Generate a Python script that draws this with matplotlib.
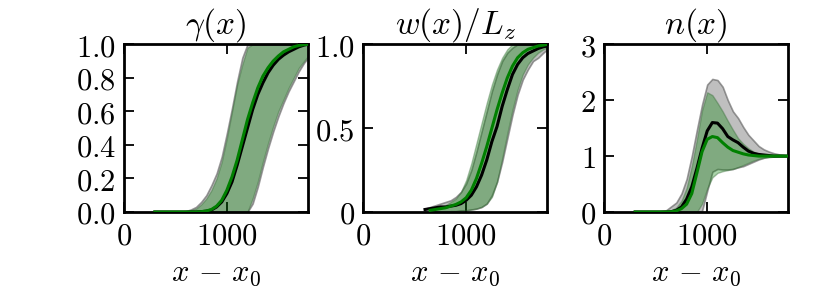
import numpy as np
import matplotlib
matplotlib.use("Agg")
import matplotlib.pyplot as plt
from matplotlib.ticker import FixedLocator, FixedFormatter

plt.rcParams['mathtext.fontset'] = 'cm'
plt.rcParams['font.family'] = 'serif'

# common x grid (x - x0)
x = [300, 400, 500, 600, 650, 700, 750, 800, 850, 900, 950, 1000, 1050, 1100,
     1150, 1200, 1250, 1300, 1350, 1400, 1450, 1500, 1550, 1600, 1650, 1700, 1750, 1790]

nan = np.nan

# ---- gamma(x) ----
gamma_black = [0, 0, 0, 0, 0, 0, 0.002, 0.005, 0.012, 0.03, 0.06, 0.11, 0.18, 0.28,
               0.39, 0.50, 0.61, 0.70, 0.77, 0.83, 0.875, 0.91, 0.935, 0.955, 0.97, 0.985, 0.995, 1.0]
gamma_green = [0, 0, 0, 0, 0, 0, 0.002, 0.006, 0.015, 0.035, 0.07, 0.13, 0.21, 0.31,
               0.43, 0.55, 0.65, 0.74, 0.81, 0.86, 0.90, 0.93, 0.955, 0.97, 0.985, 0.993, 0.998, 1.0]
gamma_gray_hi = [0, 0, 0, 0.005, 0.015, 0.03, 0.06, 0.10, 0.16, 0.23, 0.33, 0.47, 0.62, 0.78,
                 0.92, 1.0, 1.0, 1.0, 1.0, 1.0, 1.0, 1.0, 1.0, 1.0, 1.0, 1.0, 1.0, 1.0]
gamma_gray_lo = [0, 0, 0, 0, 0, 0, 0, 0, 0, 0, 0, 0, 0, 0,
                 0, 0, 0.05, 0.15, 0.27, 0.38, 0.48, 0.57, 0.65, 0.72, 0.78, 0.84, 0.89, 0.92]
gamma_band_hi = [0, 0, 0, 0, 0.01, 0.02, 0.045, 0.08, 0.13, 0.20, 0.30, 0.44, 0.60, 0.76,
                 0.88, 0.98, 1.0, 1.0, 1.0, 1.0, 1.0, 1.0, 1.0, 1.0, 1.0, 1.0, 1.0, 1.0]
gamma_band_lo = [0, 0, 0, 0, 0, 0, 0, 0, 0, 0, 0, 0, 0, 0,
                 0, 0, 0.08, 0.18, 0.30, 0.41, 0.51, 0.60, 0.67, 0.74, 0.80, 0.86, 0.90, 0.93]

# ---- w(x)/Lz ----
w_black = [nan, nan, nan, 0.015, 0.02, 0.025, 0.03, 0.03, 0.035, 0.04, 0.05, 0.07, 0.10, 0.15,
           0.22, 0.31, 0.42, 0.51, 0.63, 0.73, 0.82, 0.88, 0.92, 0.945, 0.96, 0.975, 0.985, 0.99]
w_green = [nan, nan, nan, nan, 0.01, 0.015, 0.02, 0.025, 0.035, 0.045, 0.06, 0.085, 0.13, 0.20,
           0.29, 0.39, 0.50, 0.61, 0.71, 0.80, 0.87, 0.92, 0.95, 0.97, 0.98, 0.99, 0.995, 1.0]
w_gray_hi = [nan, nan, nan, 0.02, 0.03, 0.04, 0.05, 0.06, 0.07, 0.09, 0.12, 0.17, 0.25, 0.36,
             0.48, 0.60, 0.72, 0.82, 0.90, 0.95, 0.98, 1.0, 1.0, 1.0, 1.0, 1.0, 1.0, 1.0]
w_gray_lo = [nan, nan, nan, 0.0, 0.0, 0.0, 0.0, 0.0, 0.005, 0.005, 0.01, 0.01, 0.015, 0.02,
             0.03, 0.05, 0.10, 0.18, 0.30, 0.44, 0.58, 0.70, 0.79, 0.85, 0.90, 0.92, 0.95, 0.97]
w_band_hi = [nan, nan, nan, nan, 0.01, 0.02, 0.03, 0.04, 0.06, 0.08, 0.12, 0.19, 0.29, 0.41,
             0.53, 0.65, 0.76, 0.85, 0.92, 0.97, 1.0, 1.0, 1.0, 1.0, 1.0, 1.0, 1.0, 1.0]
w_band_lo = [nan, nan, nan, nan, 0.0, 0.0, 0.0, 0.0, 0.0, 0.005, 0.008, 0.01, 0.015, 0.02,
             0.03, 0.05, 0.09, 0.18, 0.32, 0.47, 0.61, 0.73, 0.82, 0.88, 0.92, 0.95, 0.97, 0.98]

# ---- n(x) ----
n_black = [0, 0, 0, 0, 0.005, 0.03, 0.09, 0.23, 0.45, 0.78, 1.14, 1.45, 1.60, 1.59,
           1.49, 1.35, 1.29, 1.24, 1.16, 1.09, 1.05, 1.03, 1.02, 1.01, 1.0, 1.0, 1.0, 1.0]
n_green = [0, 0, 0, 0, 0.005, 0.02, 0.06, 0.14, 0.33, 0.70, 1.08, 1.30, 1.35, 1.33,
           1.24, 1.16, 1.10, 1.07, 1.04, 1.02, 1.01, 1.0, 1.0, 1.0, 1.0, 1.0, 1.0, 1.0]
n_gray_hi = [0, 0, 0, 0.03, 0.10, 0.17, 0.33, 0.59, 1.00, 1.47, 1.92, 2.28, 2.38, 2.36,
             2.24, 2.00, 1.80, 1.68, 1.52, 1.38, 1.28, 1.18, 1.12, 1.08, 1.05, 1.03, 1.02, 1.0]
n_gray_lo = [0, 0, 0, 0, 0, 0, 0, 0, 0, 0, 0.02, 0.38, 0.72, 0.77,
             0.76, 0.76, 0.77, 0.80, 0.82, 0.86, 0.90, 0.94, 0.97, 0.99, 1.0, 1.0, 1.0, 1.0]
n_band_hi = [0, 0.005, 0.005, 0.01, 0.03, 0.08, 0.20, 0.43, 0.82, 1.30, 1.82, 2.14, 2.09, 1.95,
             1.80, 1.63, 1.47, 1.32, 1.22, 1.14, 1.08, 1.04, 1.02, 1.01, 1.0, 1.0, 1.0, 1.0]
n_band_lo = [0, 0, 0, 0, 0, 0, 0, 0, 0, 0, 0.15, 0.42, 0.62, 0.70,
             0.73, 0.75, 0.77, 0.80, 0.84, 0.88, 0.92, 0.95, 0.97, 0.98, 0.99, 1.0, 1.0, 1.0]

titles = [r'$\gamma(x)$', r'$w(x)/L_z$', r'$n(x)$']
yticks = [[0, 0.2, 0.4, 0.6, 0.8, 1.0], [0, 0.5, 1.0], [0, 1, 2, 3]]
yticklabels = [['0.0', '0.2', '0.4', '0.6', '0.8', '1.0'], ['0', '0.5', '1.0'], ['0', '1', '2', '3']]
ylims = [(0, 1), (0, 1), (0, 3)]
xticks = [0, 1000]
xticklabels = ['0', '1000']

panels = [
    (gamma_black, gamma_green, gamma_gray_lo, gamma_gray_hi, gamma_band_lo, gamma_band_hi),
    (w_black, w_green, w_gray_lo, w_gray_hi, w_band_lo, w_band_hi),
    (n_black, n_green, n_gray_lo, n_gray_hi, n_band_lo, n_band_hi),
]

fig = plt.figure(figsize=(8.3, 2.91), dpi=100)
lefts = [0.1494, 0.4377, 0.7281]
width = 0.2215
bottom = 0.2715
height = 0.5763
fs = 22

xa = np.array(x, dtype=float)
for i, (blk, grn, glo, ghi, blo, bhi) in enumerate(panels):
    ax = fig.add_axes([lefts[i], bottom, width, height])
    ax.fill_between(xa, np.array(glo, float), np.array(ghi, float),
                    facecolor=(0.5, 0.5, 0.5, 0.5), edgecolor=(0.35, 0.35, 0.35, 0.6),
                    linewidth=1.2, zorder=1)
    ax.fill_between(xa, np.array(blo, float), np.array(bhi, float),
                    facecolor=(0.0, 0.5, 0.0, 0.33), edgecolor=(0.25, 0.45, 0.25, 0.45),
                    linewidth=1.0, zorder=2)
    ax.plot(xa, blk, color='black', lw=2.2, zorder=3)
    ax.plot(xa, grn, color='green', lw=2.2, zorder=4)
    ax.set_xlim(0, 1787)
    ax.set_ylim(*ylims[i])
    ax.xaxis.set_major_locator(FixedLocator(xticks))
    ax.xaxis.set_major_formatter(FixedFormatter(['$%s$' % t for t in xticklabels]))
    ax.yaxis.set_major_locator(FixedLocator(yticks[i]))
    ax.yaxis.set_major_formatter(FixedFormatter(['$%s$' % t for t in yticklabels[i]]))
    ax.tick_params(direction='in', length=7, width=1.3, top=True, right=True,
                   labelsize=fs, pad=6)
    for s in ax.spines.values():
        s.set_linewidth(2.0)
    ax.set_title(titles[i], fontsize=24, pad=8)
    ax.set_xlabel(r'$x\,-\,x_0$', fontsize=fs, labelpad=4)

fig.savefig('out.png', dpi=100)
